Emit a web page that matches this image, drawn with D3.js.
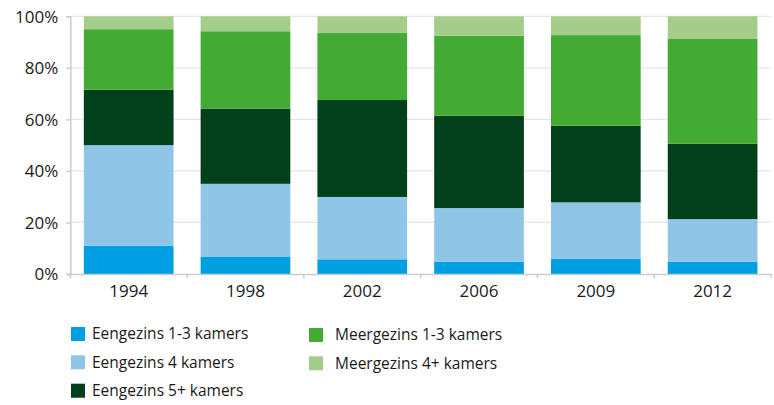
<!DOCTYPE html>
<html>
<head>
<meta charset="utf-8">
<script src="https://cdn.jsdelivr.net/npm/d3@7"></script>
<style>
  body { margin: 0; background: #fff; }
  text { font-family: "Open Sans", "Noto Sans", sans-serif; fill: #1a1a1a; }
</style>
</head>
<body>
<div id="chart"></div>
<script>
// data (percent per year)
var years = ["1994", "1998", "2002", "2006", "2009", "2012"];
var keys = ["Eengezins 1-3 kamers", "Eengezins 4 kamers", "Eengezins 5+ kamers", "Meergezins 1-3 kamers", "Meergezins 4+ kamers"];
var eengezins13 = [11, 6.6, 5.7, 4.7, 5.9, 4.7];
var eengezins4 = [39, 28.4, 24.2, 20.9, 21.9, 16.6];
var eengezins5 = [21.5, 29.2, 37.6, 35.8, 29.7, 29.3];
var meergezins13 = [23.5, 30.0, 26.0, 31.1, 35.2, 40.6];
var meergezins4 = [5, 5.8, 6.5, 7.5, 7.3, 8.8];
var yTicks = [0, 20, 40, 60, 80, 100];
var colors = ["#009fe3", "#8fc6e7", "#023f1b", "#43ab33", "#a3cd88"];

var series = [eengezins13, eengezins4, eengezins5, meergezins13, meergezins4];
var rows = years.map(function(y, i) {
  var r = {year: y};
  keys.forEach(function(k, j) { r[k] = series[j][i]; });
  return r;
});

var width = 774, height = 405;
var margin = {top: 16.3, left: 70.3, right: 3, bottom: 131};

var svg = d3.select("#chart")
  .append("svg")
    .attr("width", width)
    .attr("height", height);

var x = d3.scaleBand()
  .domain(years)
  .range([margin.left, width - margin.right])
  .paddingInner(0.232)
  .paddingOuter(0.116);

var y = d3.scaleLinear()
  .domain([0, 100])
  .range([height - margin.bottom, margin.top]);

// gridlines
svg.append("g")
  .selectAll("line")
  .data(yTicks.slice(1))
  .enter()
  .append("line")
    .attr("x1", margin.left)
    .attr("x2", width - margin.right)
    .attr("y1", function(d) { return y(d); })
    .attr("y2", function(d) { return y(d); })
    .attr("stroke", "#e6e6e6")
    .attr("stroke-width", 1.2);

// stacked bars
var stack = d3.stack().keys(keys)(rows);
svg.append("g")
  .selectAll("g")
  .data(stack)
  .enter()
  .append("g")
    .attr("fill", function(d, i) { return colors[i]; })
  .selectAll("rect")
  .data(function(d) { return d; })
  .enter()
  .append("rect")
    .attr("x", function(d) { return x(d.data.year); })
    .attr("y", function(d) { return y(d[1]); })
    .attr("height", function(d) { return y(d[0]) - y(d[1]); })
    .attr("width", x.bandwidth());

// Y axis
var yAxis = svg.append("g")
  .attr("transform", "translate(" + margin.left + ",0)")
  .call(d3.axisLeft(y).tickValues(yTicks).tickSize(4).tickPadding(8).tickFormat(function(d) { return d + "%"; }));
yAxis.selectAll("line, path").attr("stroke", "#cccccc").attr("stroke-width", 1.5);
yAxis.selectAll("text").attr("font-size", 17).attr("dy", "0.35em");

// X axis with ticks between bands
var xAxis = svg.append("g")
  .attr("transform", "translate(0," + y(0) + ")")
  .call(d3.axisBottom(x).tickSize(0).tickPadding(11));
xAxis.select("path").attr("stroke", "#cccccc").attr("stroke-width", 1.5);
xAxis.selectAll("text").attr("font-size", 17);

var bounds = years.map(function(d) { return x(d) - x.step() * x.paddingInner() / 2; });
bounds.push(width - margin.right);
xAxis.selectAll("line.sep")
  .data(bounds)
  .enter()
  .append("line")
    .attr("class", "sep")
    .attr("x1", function(d) { return d; })
    .attr("x2", function(d) { return d; })
    .attr("y1", 0)
    .attr("y2", 4)
    .attr("stroke", "#cccccc")
    .attr("stroke-width", 1.5);

// legend
var legendPos = [
  {x: 71, y: 334}, {x: 71, y: 362.3}, {x: 71, y: 390.7},
  {x: 309, y: 335}, {x: 309, y: 363.3}
];
var legend = svg.append("g")
  .selectAll("g")
  .data(keys)
  .enter()
  .append("g")
    .attr("transform", function(d, i) { return "translate(" + legendPos[i].x + "," + legendPos[i].y + ")"; });

legend.append("rect")
  .attr("x", 0)
  .attr("y", -7)
  .attr("width", 14)
  .attr("height", 14)
  .attr("fill", function(d, i) { return colors[i]; });

legend.append("text")
  .attr("x", function(d, i) { return i < 3 ? 21 : 26; })
  .attr("dy", "0.35em")
  .attr("font-size", 15.5)
  .text(function(d) { return d; });
</script>
</body>
</html>
